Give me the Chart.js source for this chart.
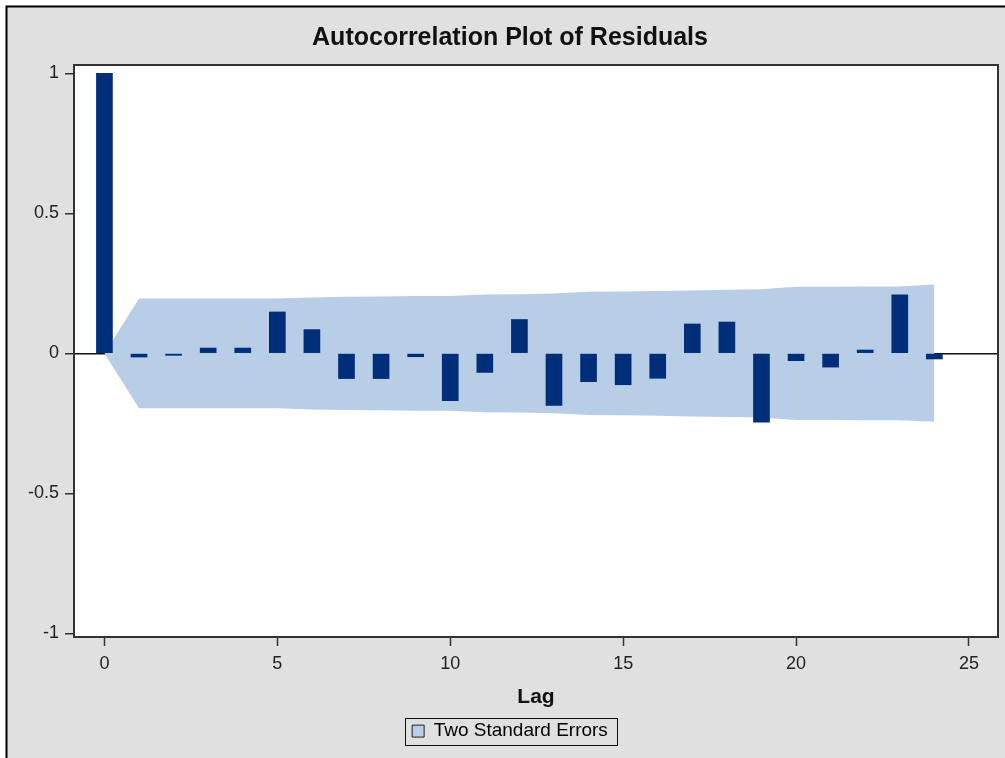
<!DOCTYPE html>
<html>
<head>
<meta charset="utf-8">
<script src="https://cdn.jsdelivr.net/npm/chart.js@4/dist/chart.umd.min.js"></script>
<style>
  html, body { margin: 0; padding: 0; background: #fff; }
  #wrap { width: 1005px; height: 758px; }
</style>
</head>
<body>
<div id="wrap"><canvas id="acf" width="1005" height="758"></canvas></div>
<script>
const lags = [0, 1, 2, 3, 4, 5, 6, 7, 8, 9, 10, 11, 12, 13, 14, 15, 16, 17, 18, 19, 20, 21, 22, 23, 24];
const acf = [1, -0.013, -0.007, 0.019, 0.019, 0.148, 0.085, -0.09, -0.09, -0.012, -0.169, -0.068, 0.121,
             -0.186, -0.101, -0.112, -0.089, 0.105, 0.112, -0.246, -0.026, -0.049, 0.012, 0.209, -0.02];
const upperErr = [0, 0.196, 0.196, 0.196, 0.196, 0.196, 0.200, 0.202, 0.203, 0.205, 0.205, 0.210, 0.211,
                  0.214, 0.220, 0.221, 0.223, 0.225, 0.227, 0.229, 0.238, 0.238, 0.239, 0.239, 0.246];
const lowerErr = [0, -0.196, -0.196, -0.196, -0.196, -0.196, -0.200, -0.202, -0.203, -0.205, -0.205, -0.210, -0.211,
                  -0.214, -0.220, -0.221, -0.223, -0.225, -0.227, -0.229, -0.238, -0.238, -0.239, -0.239, -0.244];
const xTicks = [0, 5, 10, 15, 20, 25];
const yTicks = [-1, -0.5, 0, 0.5, 1];

const barColor = '#002E78';
const bandColor = '#B8CDE6';
const frameColor = '#000';

Chart.defaults.font.family = "'Liberation Sans', Arial, sans-serif";
Chart.defaults.color = '#222';

// gray panel, white plot area and the frame around it
const panel = {
  id: 'panel',
  beforeDraw(chart) {
    const { ctx, width, height, chartArea: a } = chart;
    ctx.save();
    ctx.fillStyle = '#fff';
    ctx.fillRect(0, 0, width, height);
    ctx.fillStyle = '#E0E0E0';
    ctx.fillRect(6, 6, width - 6, height - 6);
    ctx.strokeStyle = frameColor;
    ctx.lineWidth = 2;
    ctx.beginPath();
    ctx.moveTo(6.5, height);
    ctx.lineTo(6.5, 6.5);
    ctx.lineTo(width, 6.5);
    ctx.stroke();
    ctx.fillStyle = '#fff';
    ctx.fillRect(a.left, a.top, a.right - a.left, a.bottom - a.top);
    ctx.restore();
  },
  afterDraw(chart) {
    const { ctx, chartArea: a } = chart;
    ctx.save();
    ctx.strokeStyle = '#333';
    ctx.lineWidth = 2;
    ctx.strokeRect(a.left, a.top, a.right - a.left, a.bottom - a.top);
    // box around the legend entry
    const hb = chart.legend.legendHitBoxes[0];
    if (hb) {
      ctx.lineWidth = 1;
      ctx.strokeStyle = '#111';
      ctx.fillStyle = 'rgba(0,0,0,0)';
      ctx.strokeRect(Math.round(hb.left - 7) + 0.5, Math.round(hb.top + hb.height / 2 - 13.5) + 0.5,
                     Math.round(hb.width + 16), 27);
    }
    ctx.restore();
  }
};

new Chart(document.getElementById('acf'), {
  type: 'bar',
  data: {
    datasets: [
      {
        label: 'ACF',
        data: lags.map((l, i) => ({ x: l, y: acf[i] })),
        backgroundColor: barColor,
        barThickness: 16,
        order: 0
      },
      {
        type: 'line',
        label: 'Two Standard Errors',
        data: lags.map((l, i) => ({ x: l, y: upperErr[i] })),
        borderWidth: 0,
        borderColor: 'rgba(0,0,0,0)',
        backgroundColor: bandColor,
        pointRadius: 0,
        tension: 0,
        fill: '+1',
        order: 1
      },
      {
        type: 'line',
        label: 'lower',
        data: lags.map((l, i) => ({ x: l, y: lowerErr[i] })),
        borderWidth: 0,
        borderColor: 'rgba(0,0,0,0)',
        pointRadius: 0,
        tension: 0,
        fill: false,
        order: 2
      }
    ]
  },
  options: {
    responsive: false,
    animation: false,
    events: [],
    layout: { padding: { left: 22, right: 7, top: 6, bottom: 7.4 } },
    scales: {
      x: {
        type: 'linear',
        min: -0.88,
        max: 25.84,
        offset: false,
        afterBuildTicks: s => { s.ticks = xTicks.map(v => ({ value: v })); },
        afterFit: s => { s.height = 72.6; },
        ticks: { font: { size: 18 }, color: '#222', padding: 7, maxRotation: 0, includeBounds: false },
        grid: { offset: false, drawOnChartArea: false, tickLength: 9, tickColor: '#333', tickWidth: 1.5 },
        border: { display: false },
        title: { display: true, text: 'Lag', font: { size: 21, weight: 'bold' }, color: '#111', padding: 0 }
      },
      y: {
        min: -1.013,
        max: 1.03,
        z: 1,
        afterBuildTicks: s => { s.ticks = yTicks.map(v => ({ value: v })); },
        afterFit: s => { s.width = 52; },
        ticks: { font: { size: 18 }, color: '#222', padding: 6, callback: v => String(v), includeBounds: false },
        grid: {
          color: c => (c.tick && c.tick.value === 0 ? '#111' : 'rgba(0,0,0,0)'),
          lineWidth: 1.5,
          tickLength: 9,
          tickColor: '#333',
          tickWidth: 1.5
        },
        border: { display: false }
      }
    },
    plugins: {
      tooltip: { enabled: false },
      title: {
        display: true,
        text: 'Autocorrelation Plot of Residuals',
        font: { size: 25, weight: 'bold' },
        color: '#111',
        padding: { top: 17.5, bottom: 11.5 }
      },
      legend: {
        position: 'bottom',
        labels: {
          font: { size: 19 },
          color: '#111',
          padding: 12,
          boxWidth: 12,
          boxHeight: 12,
          generateLabels: () => [{
            text: 'Two Standard Errors',
            fillStyle: bandColor,
            strokeStyle: '#222',
            lineWidth: 1,
            hidden: false,
            datasetIndex: 1
          }]
        }
      }
    }
  },
  plugins: [panel]
});
</script>
</body>
</html>
